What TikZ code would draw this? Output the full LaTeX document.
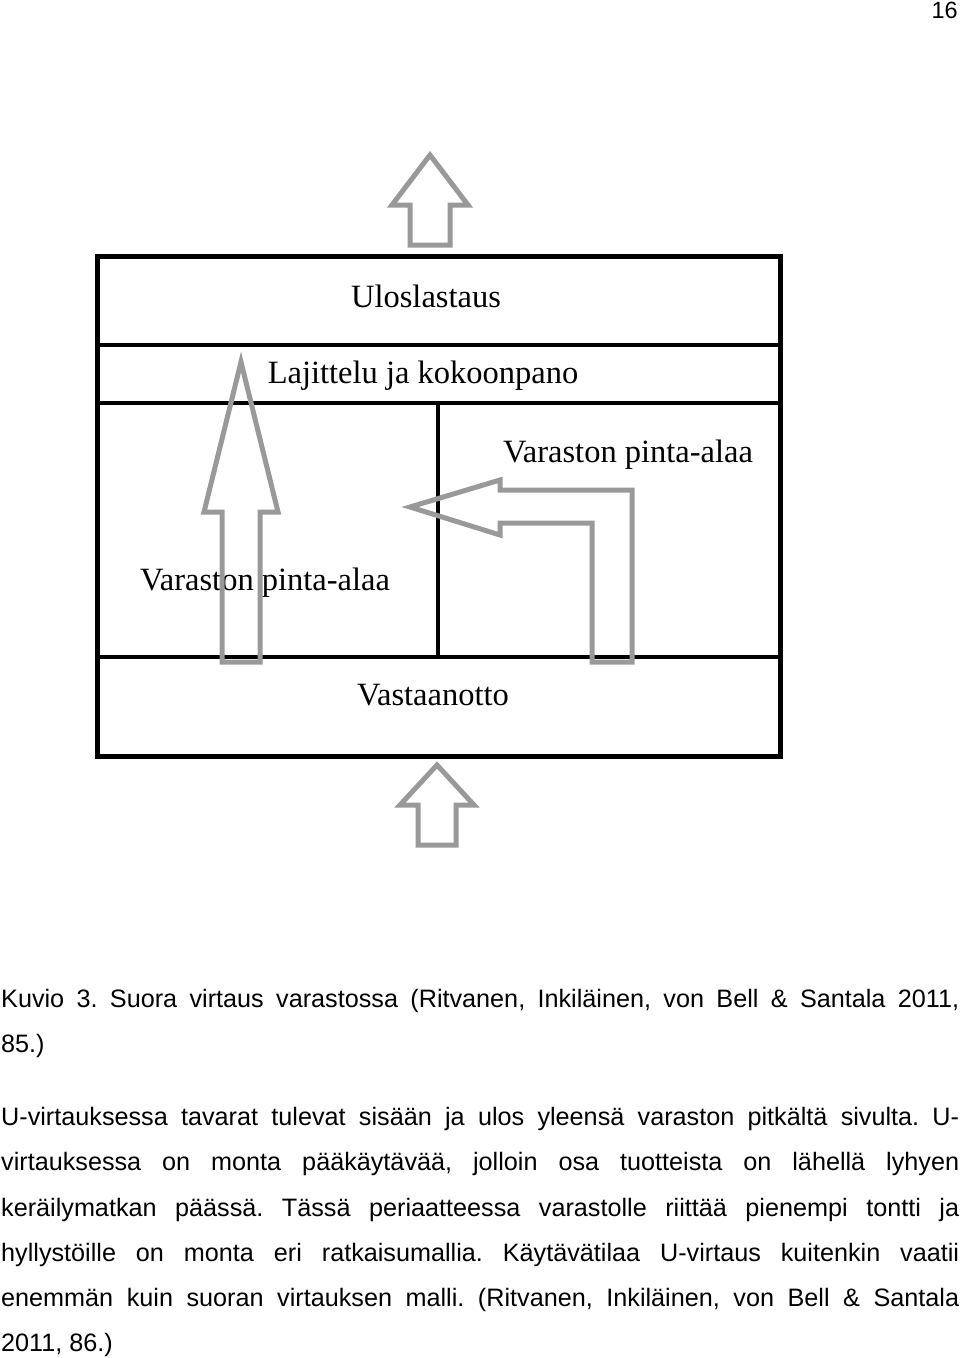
\documentclass[tikz,border=0pt]{standalone}
\usepackage{fontspec}
\setmainfont{Liberation Sans}
\newfontfamily\diag{Liberation Serif}
\begin{document}
\frenchspacing
\begin{tikzpicture}[x=1pt,y=-1pt,
  box/.style={draw=black,line width=5pt},
  sep/.style={draw=black,line width=4pt},
  arr/.style={draw=gray!80,line width=5pt,line join=miter},
  lab/.style={font=\diag\fontsize{32.5}{34}\selectfont,inner sep=0pt},
  body/.style={anchor=north west,inner sep=0pt,text width=958pt,align=justify,font=\frenchspacing\fontsize{25.2}{45.3}\selectfont}]
\useasboundingbox (0,0) rectangle (960,1358);
\node[anchor=north east,inner sep=0pt,font=\fontsize{23.5}{28}\selectfont] (pg) at (958,2) {16};
% boxes
\draw[box] (97,256) rectangle (780,756);
\draw[sep] (97,345) -- (780,345);
\draw[sep] (97,403) -- (780,403);
\draw[sep] (97,657) -- (780,657);
\draw[sep] (438,403) -- (438,657);
\node[lab] (u) at (426,296) {Uloslastaus};
\node[lab] (l) at (423,376) {Lajittelu ja kokoonpano};
\node[lab] (v1) at (628,455) {Varaston pinta-alaa};
\node[lab] (v2) at (265,583) {Varaston pinta-alaa};
\node[lab] (va) at (433,695) {Vastaanotto};
% arrows
\draw[arr] (410,245) -- (410,205) -- (392,205) -- (430,155) -- (468,205) -- (450,205) -- (450,245) -- cycle;
\draw[arr] (418,845) -- (418,805) -- (400,805) -- (437,765) -- (474,805) -- (456,805) -- (456,845) -- cycle;
\draw[arr] (222,662) -- (222,512) -- (204,512) -- (241,362) -- (278,512) -- (260,512) -- (260,662) -- cycle;
\draw[arr] (592,662) -- (592,523) -- (500,523) -- (500,535) -- (410,507) -- (500,480) -- (500,490) -- (632,490) -- (632,662) -- cycle;
% text
\node[body] (cap) at (1,989) {Kuvio 3. Suora virtaus varastossa (Ritvanen, Inkiläinen, von Bell \& Santala 2011,\linebreak 85.)};
\node[body] (p) at (1,1107) {U-virtauksessa tavarat tulevat sisään ja ulos yleensä varaston pitkältä sivulta. U-\linebreak virtauksessa on monta pääkäytävää, jolloin osa tuotteista on lähellä lyhyen\linebreak keräilymatkan päässä. Tässä periaatteessa varastolle riittää pienempi tontti ja\linebreak hyllystöille on monta eri ratkaisumallia. Käytävätilaa U-virtaus kuitenkin vaatii\linebreak enemmän kuin suoran virtauksen malli. (Ritvanen, Inkiläinen, von Bell \& Santala\linebreak 2011, 86.)};
\end{tikzpicture}
\end{document}
